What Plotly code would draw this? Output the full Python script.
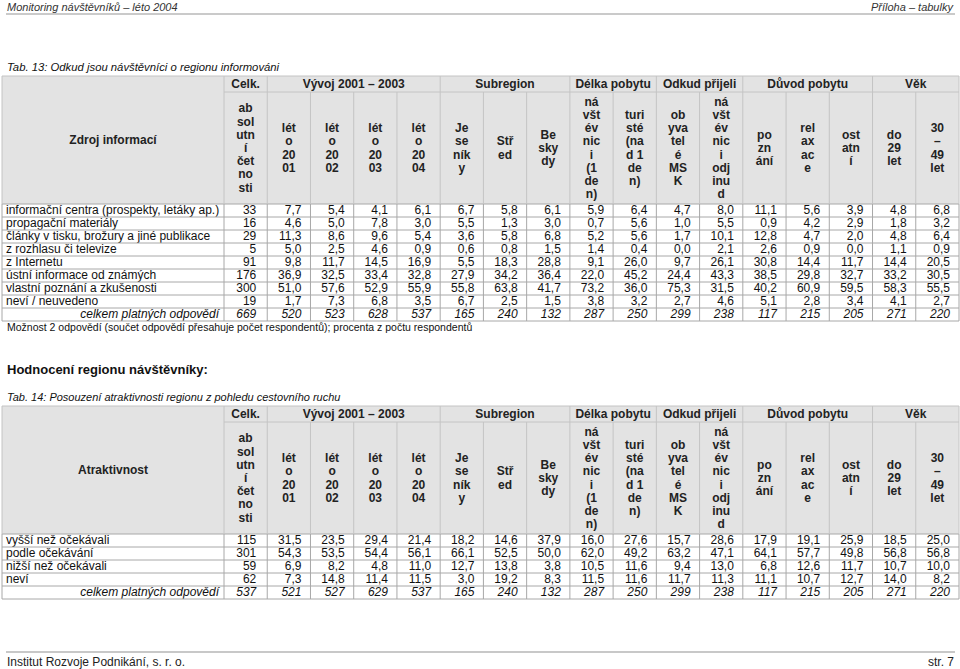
import plotly.graph_objects as go

# ---------------- data ----------------
groups = ["Celk.", "Vývoj 2001 – 2003", "Subregion", "Délka pobytu",
          "Odkud přijeli", "Důvod pobytu", "Věk"]
group_spans = [1, 4, 3, 2, 2, 3, 2]

# column headers, already broken the way the narrow cells wrap them
sub_headers = [
    ["ab", "sol", "utn", "í", "čet", "no", "sti"],
    ["lét", "o", "20", "01"],
    ["lét", "o", "20", "02"],
    ["lét", "o", "20", "03"],
    ["lét", "o", "20", "04"],
    ["Je", "se", "ník", "y"],
    ["Stř", "ed"],
    ["Be", "sky", "dy"],
    ["ná", "všt", "év", "nic", "i", "(1", "de", "n)"],
    ["turi", "sté", "(na", "d 1", "de", "n)"],
    ["ob", "yva", "tel", "é", "MS", "K"],
    ["ná", "všt", "év", "nic", "i", "odj", "inu", "d"],
    ["po", "zn", "ání"],
    ["rel", "ax", "ac", "e"],
    ["ost", "atn", "í"],
    ["do", "29", "let"],
    ["30", "–", "49", "let"],
]

total_label = "celkem platných odpovědí"

# Tab. 13
t13_labels = [
    "informační centra (prospekty, letáky ap.)",
    "propagační materiály",
    "články v tisku, brožury a jiné publikace",
    "z rozhlasu či televize",
    "z Internetu",
    "ústní informace od známých",
    "vlastní poznání a zkušenosti",
    "neví / neuvedeno",
]
t13_abs = [33, 16, 29, 5, 91, 176, 300, 19]
t13_pct = [
    [7.7, 5.4, 4.1, 6.1, 6.7, 5.8, 6.1, 5.9, 6.4, 4.7, 8.0, 11.1, 5.6, 3.9, 4.8, 6.8],
    [4.6, 5.0, 7.8, 3.0, 5.5, 1.3, 3.0, 0.7, 5.6, 1.0, 5.5, 0.9, 4.2, 2.9, 1.8, 3.2],
    [11.3, 8.6, 9.6, 5.4, 3.6, 5.8, 6.8, 5.2, 5.6, 1.7, 10.1, 12.8, 4.7, 2.0, 4.8, 6.4],
    [5.0, 2.5, 4.6, 0.9, 0.6, 0.8, 1.5, 1.4, 0.4, 0.0, 2.1, 2.6, 0.9, 0.0, 1.1, 0.9],
    [9.8, 11.7, 14.5, 16.9, 5.5, 18.3, 28.8, 9.1, 26.0, 9.7, 26.1, 30.8, 14.4, 11.7, 14.4, 20.5],
    [36.9, 32.5, 33.4, 32.8, 27.9, 34.2, 36.4, 22.0, 45.2, 24.4, 43.3, 38.5, 29.8, 32.7, 33.2, 30.5],
    [51.0, 57.6, 52.9, 55.9, 55.8, 63.8, 41.7, 73.2, 36.0, 75.3, 31.5, 40.2, 60.9, 59.5, 58.3, 55.5],
    [1.7, 7.3, 6.8, 3.5, 6.7, 2.5, 1.5, 3.8, 3.2, 2.7, 4.6, 5.1, 2.8, 3.4, 4.1, 2.7],
]
t13_totals = [669, 520, 523, 628, 537, 165, 240, 132, 287, 250, 299, 238, 117, 215, 205, 271, 220]

# Tab. 14
t14_labels = ["vyšší než očekávali", "podle očekávání", "nižší než očekávali", "neví"]
t14_abs = [115, 301, 59, 62]
t14_pct = [
    [31.5, 23.5, 29.4, 21.4, 18.2, 14.6, 37.9, 16.0, 27.6, 15.7, 28.6, 17.9, 19.1, 25.9, 18.5, 25.0],
    [54.3, 53.5, 54.4, 56.1, 66.1, 52.5, 50.0, 62.0, 49.2, 63.2, 47.1, 64.1, 57.7, 49.8, 56.8, 56.8],
    [6.9, 8.2, 4.8, 11.0, 12.7, 13.8, 3.8, 10.5, 11.6, 9.4, 13.0, 6.8, 12.6, 11.7, 10.7, 10.0],
    [7.3, 14.8, 11.4, 11.5, 3.0, 19.2, 8.3, 11.5, 11.6, 11.7, 11.3, 11.1, 10.7, 12.7, 14.0, 8.2],
]
t14_totals = [537, 521, 527, 629, 537, 165, 240, 132, 287, 250, 299, 238, 117, 215, 205, 271, 220]

# ---------------- layout constants ----------------
W, H = 960, 669
LEFT, LABEL_R, RIGHT = 2, 224, 959
NCOL = len(sub_headers)
COLW = (RIGHT - LABEL_R) / NCOL
GROUP_H, HEAD_H, ROW_H = 16, 112, 13
LINE_STEP = 13.2

BODY = "Liberation Sans, Arial, sans-serif"
HEAD_FILL = "#e3e3e3"
GRID = "#a8a8a8"
HEAD_GRID = "#c4c4c4"

edges = [LABEL_R + i * COLW for i in range(NCOL + 1)]
# right padding of numbers per column (the counts column sits a bit further in)
pads = [11] + [9] * (NCOL - 1)


def fmt(v):
    return f"{v:.1f}".replace(".", ",")


fig = go.Figure()
shapes = []


def hline(y, x0, x1, color=GRID, w=1):
    shapes.append(dict(type="line", x0=x0, x1=x1, y0=y, y1=y, line=dict(color=color, width=w)))


def vline(x, y0, y1, color=GRID, w=1):
    shapes.append(dict(type="line", x0=x, x1=x, y0=y0, y1=y1, line=dict(color=color, width=w)))


def text_trace(xs, ys, texts, pos, size=12, color="#111", weight="normal", style="normal"):
    fig.add_trace(go.Scatter(
        x=xs, y=ys, text=texts, mode="text", textposition=pos,
        textfont=dict(family=BODY, size=size, color=color, weight=weight, style=style),
        hoverinfo="skip", showlegend=False, cliponaxis=False))


def draw_table(top, corner, labels, abs_vals, pct_rows, totals):
    head_bot = top + GROUP_H + HEAD_H
    nrows = len(labels) + 1
    bottom = head_bot + nrows * ROW_H

    # header background
    shapes.append(dict(type="rect", x0=LEFT, x1=RIGHT, y0=top, y1=head_bot,
                       fillcolor=HEAD_FILL, line=dict(width=0), layer="below"))
    hline(top, LEFT, RIGHT, HEAD_GRID)
    hline(top + GROUP_H, LABEL_R, RIGHT, HEAD_GRID)
    hline(head_bot, LEFT, RIGHT, GRID)

    # group boundaries run through both header rows
    bounds = [0]
    for s in group_spans:
        bounds.append(bounds[-1] + s)
    for i, e in enumerate(edges):
        if i in bounds:
            vline(e, top, head_bot, HEAD_GRID)
        else:
            vline(e, top + GROUP_H, head_bot, HEAD_GRID)
    vline(LEFT, top, head_bot, HEAD_GRID)

    # body grid
    for r in range(1, nrows + 1):
        hline(head_bot + r * ROW_H, LEFT, RIGHT, GRID)
    for e in [LEFT] + edges:
        vline(e, head_bot, bottom, GRID)

    # group titles
    gx = [(edges[bounds[i]] + edges[bounds[i + 1]]) / 2 for i in range(len(groups))]
    text_trace(gx, [top + GROUP_H / 2 + 0.5] * len(groups), groups, "middle center",
               weight="bold", color="#222")

    # corner title
    text_trace([(LEFT + LABEL_R) / 2], [(top + head_bot) / 2 + 1], [corner], "middle center",
               weight="bold", color="#222")

    # wrapped column headers
    mid = (top + GROUP_H + head_bot) / 2 + 1
    hx, hy, ht = [], [], []
    for c, lines in enumerate(sub_headers):
        cx = (edges[c] + edges[c + 1]) / 2
        n = len(lines)
        for k, t in enumerate(lines):
            hx.append(cx)
            hy.append(mid + (k - (n - 1) / 2) * LINE_STEP)
            ht.append(t)
    text_trace(hx, hy, ht, "middle center", weight="bold", color="#222")

    # row labels
    ry = [head_bot + (r + 0.5) * ROW_H + 0.5 for r in range(len(labels))]
    text_trace([LEFT + 4] * len(labels), ry, labels, "middle right")

    # values
    vx, vy, vt = [], [], []
    for r, (a, pr) in enumerate(zip(abs_vals, pct_rows)):
        row = [str(a)] + [fmt(v) for v in pr]
        for c, t in enumerate(row):
            vx.append(edges[c + 1] - pads[c])
            vy.append(ry[r])
            vt.append(t)
    text_trace(vx, vy, vt, "middle left")

    # total row (italic)
    ty = head_bot + (nrows - 0.5) * ROW_H + 0.5
    text_trace([LABEL_R - 5] + [edges[c + 1] - pads[c] for c in range(NCOL)],
               [ty] * (NCOL + 1), [total_label] + [str(t) for t in totals],
               "middle left", style="italic")
    return bottom


t13_bottom = draw_table(76, "Zdroj informací", t13_labels, t13_abs, t13_pct, t13_totals)
t14_bottom = draw_table(406, "Atraktivnost", t14_labels, t14_abs, t14_pct, t14_totals)

# page header / footer rules
hline(14, 6, 955, "#b8b8b8", 1.5)
hline(652, 6, 955, "#c8c8c8", 2)

annotations = [
    dict(x=6, y=7, text="Monitoring návštěvníků – léto 2004", xanchor="left",
         font=dict(family=BODY, size=11, color="#333", style="italic")),
    dict(x=955, y=7, text="Příloha – tabulky", xanchor="right",
         font=dict(family=BODY, size=11, color="#333", style="italic")),
    dict(x=6, y=67, text="Tab. 13: Odkud jsou návštěvníci o regionu informováni", xanchor="left",
         font=dict(family=BODY, size=11.3, color="#111", style="italic")),
    dict(x=6, y=t13_bottom + 6, text="Možnost 2 odpovědí (součet odpovědí přesahuje počet respondentů); procenta z počtu respondentů",
         xanchor="left", font=dict(family=BODY, size=10.5, color="#111")),
    dict(x=6, y=369, text="Hodnocení regionu návštěvníky:", xanchor="left",
         font=dict(family=BODY, size=13, color="#111", weight="bold")),
    dict(x=6, y=397, text="Tab. 14: Posouzení atraktivnosti regionu z pohledu cestovního ruchu", xanchor="left",
         font=dict(family=BODY, size=11, color="#111", style="italic")),
    dict(x=6, y=662, text="Institut Rozvoje Podnikání, s. r. o.", xanchor="left",
         font=dict(family=BODY, size=12, color="#222")),
    dict(x=955, y=662, text="str. 7", xanchor="right",
         font=dict(family=BODY, size=12, color="#222")),
]
for a in annotations:
    a.update(xref="x", yref="y", yanchor="middle", showarrow=False, borderpad=0)

fig.update_layout(
    width=W, height=H, autosize=False,
    margin=dict(l=0, r=0, t=0, b=0),
    paper_bgcolor="white", plot_bgcolor="white",
    xaxis=dict(range=[0, W], visible=False, fixedrange=True),
    yaxis=dict(range=[H, 0], visible=False, fixedrange=True),
    shapes=shapes, annotations=annotations,
    showlegend=False,
)

fig.write_html("out.html", config={"displayModeBar": False},
               post_script="document.body.style.margin='0';document.body.style.overflow='hidden';")
